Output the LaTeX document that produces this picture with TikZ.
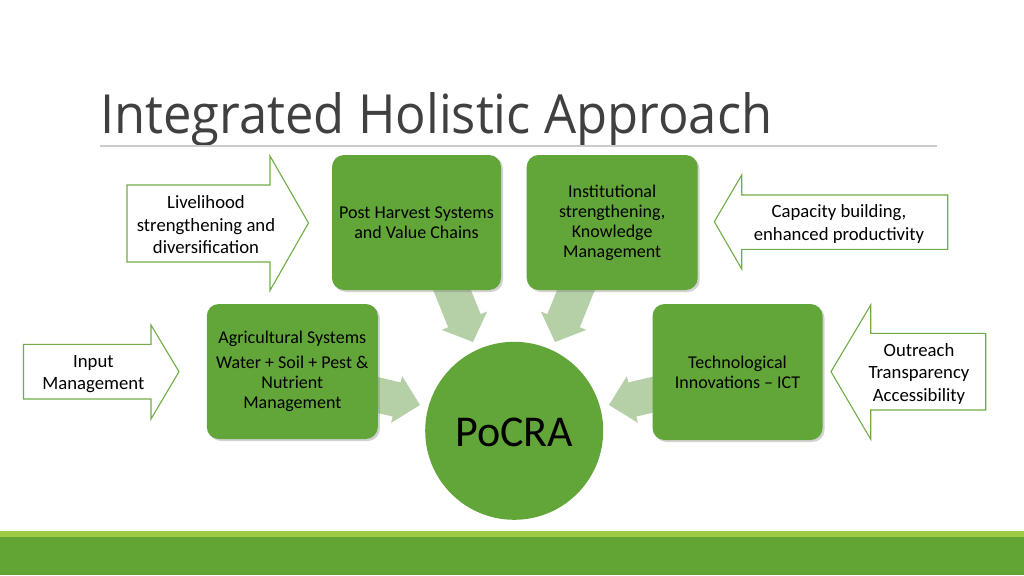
\documentclass[tikz,border=0pt]{standalone}
\usepackage{fontspec}
\setmainfont{Carlito}
\newfontfamily\titlefont{Open Sans}
\usetikzlibrary{calc,shadows}
\definecolor{boxgreen}{HTML}{62A538}
\definecolor{fatgreen}{HTML}{B5CFA6}
\definecolor{linegreen}{HTML}{70AD47}
\definecolor{titlegray}{HTML}{404040}
\definecolor{bandlight}{HTML}{9DCB45}
\definecolor{banddark}{HTML}{62A535}
\tikzset{
  gbox/.style={rectangle, rounded corners=12pt, fill=boxgreen, inner sep=0pt,
    align=center, font=\fontsize{18}{20}\selectfont,
    drop shadow={opacity=0.35, shadow xshift=2pt, shadow yshift=-2pt}},
  outl/.style={draw=linegreen, line width=1.1pt, fill=white},
  arrtext/.style={align=center, inner sep=0pt, font=\fontsize{18.7}{22.5}\selectfont},
  fatfill/.style={fill=fatgreen}
}
\newcommand\fatarrow[5]{%
  \coordinate (fS) at #1; \coordinate (fT) at #2;
  \coordinate (fB) at ($(fT)!#5!(fS)$);
  \fill[fatfill] ($(fS)!#3!90:(fT)$) -- ($(fB)!#3!90:(fT)$) -- ($(fB)!#4!90:(fT)$) -- (fT)
     -- ($(fB)!#4!-90:(fT)$) -- ($(fB)!#3!-90:(fT)$) -- ($(fS)!#3!-90:(fT)$) -- cycle;}
\begin{document}
\begin{tikzpicture}[x=1pt,y=-1pt]
\useasboundingbox (0,0) rectangle (1024,575);
\fill[white] (0,0) rectangle (1024,575);
% bottom band
\fill[bandlight] (0,530.7) rectangle (1024,536.7);
\fill[banddark] (0,536.7) rectangle (1024,575);
% title
\node[anchor=base west, inner sep=0pt, text=titlegray] (title) at (100,133)
  {\resizebox{672pt}{41pt}{\titlefont\fontsize{50}{60}\selectfont Integrated Holistic Approach}};
\draw[line width=1.4pt, draw=black!20] (100,146) -- (937,146);
% fat arrows
\fatarrow{(447.5,278.8)}{(473,342)}{17.5pt}{24.5pt}{23pt}
\fatarrow{(580.5,278.8)}{(555,342)}{17.5pt}{24.5pt}{23pt}
\fatarrow{(365,392)}{(420,405)}{17.5pt}{24pt}{24pt}
\fatarrow{(664,392)}{(609,405)}{17.5pt}{24pt}{24pt}
% circle
\node[circle, fill=boxgreen, minimum size=178pt, inner sep=0pt] (pocra) at (514.2,430.8) {};
\node[anchor=base, inner sep=0pt, font=\fontsize{44}{50}\selectfont] (pocratext) at (514.2,446) {PoCRA};
% boxes
\node[gbox, minimum width=169pt, minimum height=135pt] (post) at (416.5,222.5)
  {Post Harvest Systems\\and Value Chains};
\node[gbox, minimum width=171pt, minimum height=135pt] (inst) at (612.2,222.5)
  {Institutional\\strengthening,\\Knowledge\\Management};
\node[gbox, minimum width=171pt, minimum height=135pt] (agri) at (292.3,371.5)
  {Agricultural Systems\\[5pt]Water + Soil + Pest \&\\Nutrient\\Management};
\node[gbox, minimum width=170pt, minimum height=136pt] (tech) at (737.5,372)
  {Technological\\Innovations – ICT};
% outline arrows
\draw[outl] (127,185) -- (270,185) -- (270,156) -- (308.5,223) -- (270,290.5) -- (270,262) -- (127,262) -- cycle;
\node[arrtext] (liv) at (206,225) {Livelihood\\strengthening and\\diversification};
\draw[outl] (947.7,195) -- (741.7,195) -- (741.7,175) -- (714.3,221.7) -- (741.7,269) -- (741.7,249.3) -- (947.7,249.3) -- cycle;
\node[arrtext] (cap) at (839,224) {Capacity building,\\enhanced productivity};
\draw[outl] (23.5,344.3) -- (151,344.3) -- (151,325) -- (179,371.7) -- (151,419) -- (151,399) -- (23.5,399) -- cycle;
\node[arrtext] (inp) at (93.4,374) {Input\\Management};
\draw[outl] (985.7,333.3) -- (870.7,333.3) -- (870.7,305) -- (831,371.7) -- (870.7,439.3) -- (870.7,410) -- (985.7,410) -- cycle;
\node[arrtext] (outr) at (919,374) {Outreach\\Transparency\\Accessibility};
\end{tikzpicture}
\end{document}
